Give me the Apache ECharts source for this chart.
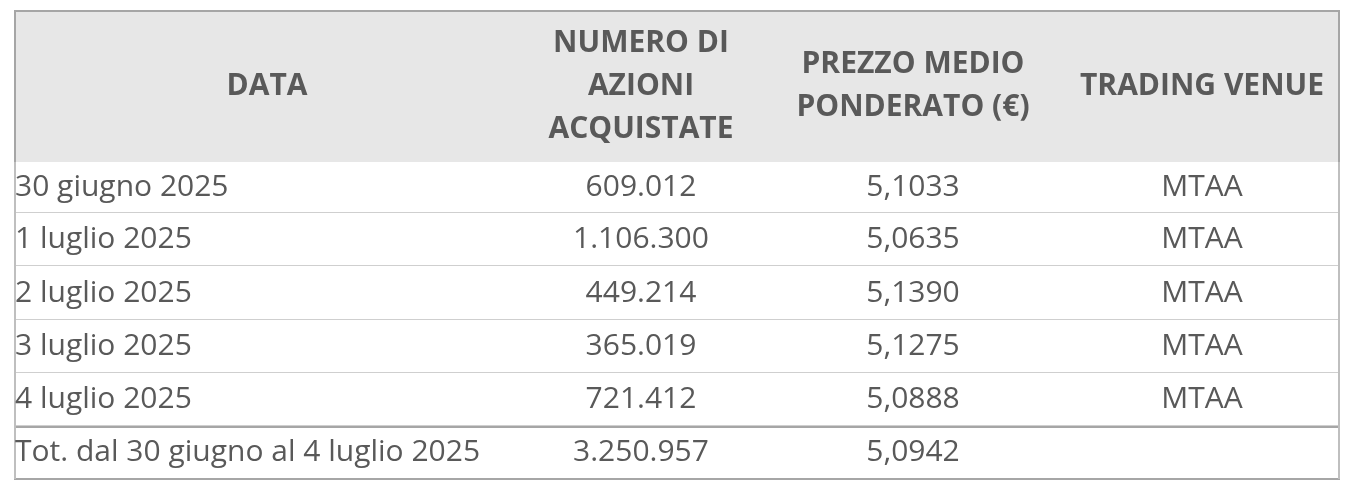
<!DOCTYPE html>
<html><head><meta charset="utf-8">
<script src="https://cdn.jsdelivr.net/npm/echarts@6/dist/echarts.min.js"></script>
<style>html,body{margin:0;padding:0;background:#fff}#c{width:1351px;height:488px}</style>
</head><body><div id="c"></div>
<script>
const headers = ['DATA', 'NUMERO DI\nAZIONI\nACQUISTATE', 'PREZZO MEDIO\nPONDERATO (€)', 'TRADING VENUE'];
const dates = ['30 giugno 2025', '1 luglio 2025', '2 luglio 2025', '3 luglio 2025', '4 luglio 2025', 'Tot. dal 30 giugno al 4 luglio 2025'];
const shares = ['609.012', '1.106.300', '449.214', '365.019', '721.412', '3.250.957'];
const prices = ['5,1033', '5,0635', '5,1390', '5,1275', '5,0888', '5,0942'];
const venues = ['MTAA', 'MTAA', 'MTAA', 'MTAA', 'MTAA', ''];

const colEdges = [0, 506, 748, 1050, 1326];
const rowEdges = [0, 152, 203, 256, 310, 363, 416, 469];

const cells = [];
headers.forEach((h, c) => cells.push([c, 0, h]));
for (let r = 0; r < dates.length; r++) {
  [dates[r], shares[r], prices[r], venues[r]].forEach((v, c) => cells.push([c, r + 1, v]));
}

const chart = echarts.init(document.getElementById('c'));
chart.setOption({
  animation: false,
  grid: {left: 14, right: 11, top: 10, bottom: 9},
  xAxis: {type: 'value', min: 0, max: 1326, show: false},
  yAxis: {type: 'value', min: 0, max: 469, inverse: true, show: false},
  series: [{
    type: 'custom',
    data: cells,
    renderItem: function (params, api) {
      const c = api.value(0), r = api.value(1);
      const txt = cells[params.dataIndex][2];
      const p0 = api.coord([colEdges[c], rowEdges[r]]);
      const p1 = api.coord([colEdges[c + 1], rowEdges[r + 1]]);
      const x = p0[0], y = p0[1], w = p1[0] - p0[0], h = p1[1] - p0[1];
      const header = r === 0;
      const children = [{
        type: 'rect', shape: {x: x, y: y, width: w, height: h},
        style: {fill: header ? '#e7e7e7' : '#ffffff'}
      }];
      if (!header) {
        children.push({type: 'line', shape: {x1: x, y1: y + h, x2: x + w, y2: y + h},
          style: {stroke: r === 6 ? '#a6a6a6' : '#bfbfbf', lineWidth: r === 6 ? 2 : 1.5}});
        if (r === 6) children.push({type: 'line', shape: {x1: x, y1: y + 1, x2: x + w, y2: y + 1},
          style: {stroke: '#a6a6a6', lineWidth: 2}});
        if (c === 0) children.push({type: 'line', shape: {x1: x + 1, y1: y, x2: x + 1, y2: y + h},
          style: {stroke: '#bfbfbf', lineWidth: 2}});
        if (c === 3) children.push({type: 'line', shape: {x1: x + w - 1, y1: y, x2: x + w - 1, y2: y + h},
          style: {stroke: '#bfbfbf', lineWidth: 2}});
      } else {
        children.push({type: 'line', shape: {x1: x, y1: y + 1, x2: x + w, y2: y + 1},
          style: {stroke: '#a6a6a6', lineWidth: 2}});
        if (c === 0) children.push({type: 'line', shape: {x1: x + 1, y1: y, x2: x + 1, y2: y + h},
          style: {stroke: '#a6a6a6', lineWidth: 2}});
        if (c === 3) children.push({type: 'line', shape: {x1: x + w - 1, y1: y, x2: x + w - 1, y2: y + h},
          style: {stroke: '#a6a6a6', lineWidth: 2}});
      }
      const left = !header && c === 0;
      children.push({
        type: 'text',
        style: {
          text: txt,
          x: left ? x + 1 : x + w / 2,
          y: y + h / 2,
          align: left ? 'left' : 'center',
          verticalAlign: 'middle',
          fill: '#595959',
          font: (header ? 'bold ' : '') + '30px "Open Sans", "Liberation Sans", sans-serif',
          lineHeight: 43
        }
      });
      return {type: 'group', children: children};
    }
  }]
});
</script></body></html>
